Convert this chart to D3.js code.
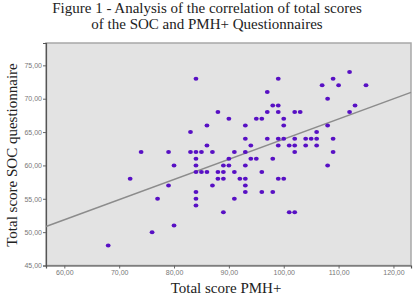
<!DOCTYPE html>
<html>
<head>
<meta charset="utf-8">
<script src="https://cdn.jsdelivr.net/npm/d3@7"></script>
<style>
  body { margin: 0; background: #fff; }
  text { font-family: "Liberation Serif", "DejaVu Serif", serif; }
</style>
</head>
<body>
<div id="chart"></div>
<script>
// PMH+ total score (x) and SOC total score (y) for each respondent
var pmh = [112,
  84, 99, 109,
  107, 110, 115,
  97,
  108,
  98, 99, 113,
  88, 97, 99, 102, 103, 112,
  90, 95, 96, 100,
  86, 93, 100, 108,
  83, 106,
  93, 97, 99, 100, 102, 104, 105, 106, 109,
  86, 94, 99, 101, 102, 104, 106,
  74, 79, 83, 84, 85, 87, 91, 93, 102, 109,
  84, 90, 94, 95, 98,
  80, 84, 89, 90, 93, 108,
  84, 85, 86, 88, 89, 91, 96,
  72, 88, 89, 92, 93, 99, 100,
  79, 87, 93,
  84, 93, 96, 98,
  77, 84, 91,
  84,
  89, 101, 102,
  80,
  76,
  68];
var soc = [74,
  73, 73, 73,
  72, 72, 72,
  71,
  70,
  69, 69, 69,
  68, 68, 68, 68, 68, 68,
  67, 67, 67, 67,
  66, 66, 66, 66,
  65, 65,
  64, 64, 64, 64, 64, 64, 64, 64, 64,
  63, 63, 63, 63, 63, 63, 63,
  62, 62, 62, 62, 62, 62, 62, 62, 62, 62,
  61, 61, 61, 61, 61,
  60, 60, 60, 60, 60, 60,
  59, 59, 59, 59, 59, 59, 59,
  58, 58, 58, 58, 58, 58, 58,
  57, 57, 57,
  56, 56, 56, 56,
  55, 55, 55,
  54,
  53, 53, 53,
  51,
  50,
  48];

// fit line end points
var fitX = [56.66, 123.2];
var fitY = [50.85, 70.95];

var xTicks = [60, 70, 80, 90, 100, 110, 120];
var yTicks = [45, 50, 55, 60, 65, 70, 75];

var W = 416, H = 299;
var plot = {left: 46, top: 43, right: 411, bottom: 265.5};

var svg = d3.select("#chart").append("svg")
    .attr("width", W)
    .attr("height", H);

var x = d3.scaleLinear().domain([56.66, 123.2]).range([plot.left, plot.right]);
var y = d3.scaleLinear().domain([45, 78.35]).range([plot.bottom, plot.top]);

// title
svg.append("text")
    .attr("x", 207).attr("y", 12.5)
    .attr("text-anchor", "middle")
    .style("font-size", "15px")
    .style("fill", "#222")
    .text("Figure 1 - Analysis of the correlation of total scores");
svg.append("text")
    .attr("x", 207).attr("y", 29)
    .attr("text-anchor", "middle")
    .style("font-size", "15px")
    .style("fill", "#222")
    .text("of the SOC and PMH+ Questionnaires");

// plot area
svg.append("rect")
    .attr("x", plot.left).attr("y", plot.top)
    .attr("width", plot.right - plot.left)
    .attr("height", plot.bottom - plot.top)
    .attr("fill", "#e3e3e3")
    .attr("stroke", "#a8a8a8")
    .attr("stroke-width", 1.5);

var fmt = function(d) { return d.toFixed(2).replace(".", ","); };

var yAxis = svg.append("g")
    .attr("transform", "translate(" + plot.left + ",0)")
    .call(d3.axisLeft(y).tickValues(yTicks).tickSize(3).tickPadding(1).tickFormat(fmt));
var xAxis = svg.append("g")
    .attr("transform", "translate(0," + plot.bottom + ")")
    .call(d3.axisBottom(x).tickValues(xTicks).tickSize(3).tickPadding(2).tickFormat(fmt));

[xAxis, yAxis].forEach(function(g) {
  g.select(".domain").attr("stroke", "#555").attr("stroke-width", 1.2);
  g.selectAll(".tick line").attr("stroke", "#666");
  g.selectAll(".tick text")
    .style("font-family", "Arial, 'Liberation Sans', sans-serif")
    .style("font-size", "7px")
    .attr("fill", "#777");
});

// fit line
svg.append("line")
    .attr("x1", x(fitX[0])).attr("y1", y(fitY[0]))
    .attr("x2", x(fitX[1])).attr("y2", y(fitY[1]))
    .attr("stroke", "#8c8c8c")
    .attr("stroke-width", 1.5);

// dots
svg.append("g")
  .selectAll("ellipse")
  .data(d3.range(pmh.length))
  .enter()
  .append("ellipse")
    .attr("cx", function(i) { return x(pmh[i]); })
    .attr("cy", function(i) { return y(soc[i]); })
    .attr("rx", 2.4)
    .attr("ry", 2)
    .attr("fill", "#5810c4");

// axis titles
svg.append("text")
    .attr("transform", "translate(17," + 155 + ") rotate(-90)")
    .attr("text-anchor", "middle")
    .style("font-size", "15px")
    .style("fill", "#222")
    .text("Total score SOC questionnaire");
svg.append("text")
    .attr("x", 226).attr("y", 293)
    .attr("text-anchor", "middle")
    .style("font-size", "15px")
    .style("fill", "#222")
    .text("Total score PMH+");
</script>
</body>
</html>
